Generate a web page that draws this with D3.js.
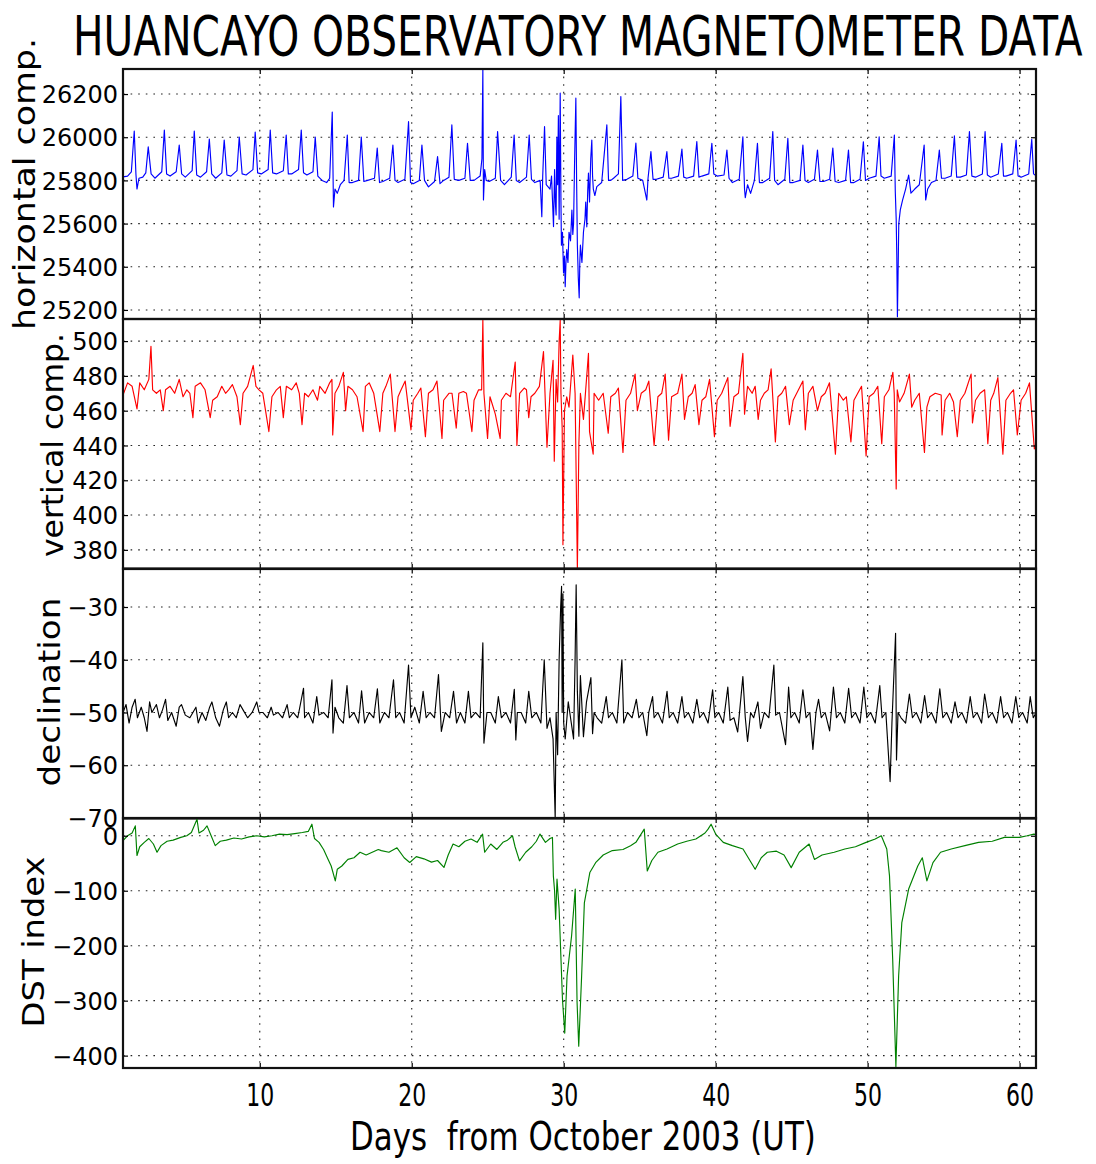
<!DOCTYPE html>
<html><head><meta charset="utf-8">
<script src="https://cdn.jsdelivr.net/npm/d3@7"></script>
<style>
html,body{margin:0;padding:0;background:#fff;}
svg{display:block;font-family:"DejaVu Sans",sans-serif;}
</style></head><body>
<svg id="chart" width="1096" height="1164"></svg>
<script>
// ---------------- DATA (day of Oct 2003, value) ----------------
const titleText = "HUANCAYO OBSERVATORY MAGNETOMETER DATA";
const xLabelText = "Days  from October 2003 (UT)";
const panelLabels = ["horizontal comp.", "vertical comp.", "declination", "DST index"];
const xTicks = [10, 20, 30, 40, 50, 60];
const hTicks = [25200, 25400, 25600, 25800, 26000, 26200];
const zTicks = [380, 400, 420, 440, 460, 480, 500];
const dTicks = [-70, -60, -50, -40, -30];
const dstTicks = [-400, -300, -200, -100, 0];

const hComp = [
[1.0,25816],[1.3,25820],[1.55,25840],[1.74,26029],[1.85,25830],[1.92,25760],[2.05,25810],
[2.3,25815],[2.5,25835],[2.66,25955],[2.85,25830],
[3.1,25810],[3.55,25840],[3.72,26033],[3.87,25830],
[4.1,25820],[4.5,25840],[4.70,25964],[4.86,25830],
[5.1,25815],[5.55,25845],[5.69,26029],[5.85,25825],
[6.1,25815],[6.5,25840],[6.68,25991],[6.84,25830],
[7.1,25810],[7.5,25835],[7.66,25987],[7.84,25825],
[8.1,25820],[8.5,25845],[8.65,26001],[8.84,25830],
[9.1,25825],[9.55,25850],[9.70,26024],[9.86,25835],
[10.1,25830],[10.55,25850],[10.69,26033],[10.85,25835],
[11.1,25830],[11.55,25845],[11.74,26010],[11.88,25830],
[12.1,25830],[12.55,25850],[12.73,26033],[12.88,25835],
[13.1,25825],[13.5,25840],[13.65,26001],[13.82,25820],
[14.1,25800],[14.4,25790],[14.6,25810],[14.77,26117],[14.85,25677],[14.95,25760],
[15.1,25740],[15.3,25780],[15.55,25800],[15.76,26010],[15.88,25790],
[16.1,25790],[16.5,25800],[16.68,26001],[16.85,25795],
[17.1,25800],[17.55,25810],[17.73,25950],[17.88,25790],
[18.1,25795],[18.55,25810],[18.76,25964],[18.9,25800],
[19.1,25790],[19.55,25805],[19.79,26072],[19.92,25790],
[20.1,25785],[20.5,25800],[20.67,25964],[20.84,25800],
[21.1,25770],[21.5,25795],[21.70,25910],[21.86,25785],
[22.1,25800],[22.45,25815],[22.64,26057],[22.8,25805],
[23.1,25800],[23.5,25810],[23.67,25972],[23.85,25800],
[24.1,25800],[24.5,25820],[24.62,25900],[24.68,26311],[24.72,25709],[24.8,25850],[24.9,25800],
[25.1,25795],[25.5,25810],[25.65,26026],[25.85,25800],
[26.1,25780],[26.55,25815],[26.74,26010],[26.88,25800],
[27.1,25790],[27.55,25815],[27.73,26010],[27.88,25805],
[28.1,25790],[28.45,25800],[28.56,25632],[28.62,25820],[28.74,26049],[28.85,25780],
[29.1,25760],[29.2,25820],[29.33,25586],[29.4,25850],[29.45,25700],[29.5,25640],[29.55,26000],[29.6,25780],
[29.65,26100],[29.7,25620],[29.77,26204],[29.82,25700],[29.85,25500],[29.92,25560],[29.99,25371],[30.05,25450],
[30.10,25308],[30.15,25420],[30.2,25480],[30.28,25420],[30.35,25560],[30.45,25520],[30.54,25663],[30.6,25550],
[30.65,25600],[30.72,25900],[30.8,26181],[30.85,25800],[30.9,25500],[30.96,25350],[31.02,25256],[31.06,25420],
[31.1,25500],[31.2,25420],[31.3,25560],[31.4,25620],[31.45,25700],[31.52,25585],[31.58,25750],[31.63,25834],
[31.7,25700],[31.78,25900],[31.85,25987],[31.9,25820],[31.95,25760],[32.05,25730],[32.18,25771],[32.5,25790],
[32.84,26057],[32.95,25800],
[33.1,25800],[33.28,25810],[33.6,25830],[33.76,26188],[33.88,25800],
[34.16,25805],[34.55,25820],[34.75,25973],[34.88,25810],
[35.2,25800],[35.47,25709],[35.55,25810],[35.74,25933],[35.88,25805],
[36.1,25805],[36.55,25815],[36.79,25933],[36.92,25810],
[37.1,25810],[37.55,25820],[37.78,25945],[37.9,25815],
[38.1,25810],[38.55,25820],[38.76,25980],[38.9,25815],
[39.1,25820],[39.55,25830],[39.75,25972],[39.88,25830],
[40.1,25820],[40.55,25825],[40.74,25941],[40.88,25810],
[41.1,25790],[41.55,25805],[41.79,26002],[41.9,25760],[41.95,25720],
[42.1,25780],[42.3,25740],[42.55,25800],[42.75,25972],[42.88,25790],
[43.1,25790],[43.55,25810],[43.76,26026],[43.88,25800],
[44.1,25780],[44.55,25805],[44.75,25995],[44.88,25790],
[45.1,25790],[45.55,25800],[45.74,25964],[45.88,25800],
[46.1,25790],[46.5,25805],[46.70,25941],[46.86,25795],
[47.1,25795],[47.5,25805],[47.71,25950],[47.86,25795],
[48.1,25790],[48.55,25800],[48.74,25941],[48.88,25790],
[49.1,25790],[49.5,25805],[49.72,25979],[49.86,25800],
[50.1,25810],[50.55,25820],[50.76,26002],[50.88,25820],
[51.1,25810],[51.55,25820],[51.76,26010],[51.82,25750],[51.88,25620],[51.92,25450],[51.96,25169],[52.0,25350],[52.05,25600],[52.15,25663],
[52.3,25709],[52.5,25760],[52.7,25825],[52.85,25741],[53.1,25760],[53.4,25780],
[53.72,25964],[53.82,25709],[53.95,25760],
[54.2,25790],[54.5,25800],[54.72,25941],[54.86,25810],
[55.1,25810],[55.5,25820],[55.71,26006],[55.86,25815],
[56.1,25815],[56.5,25825],[56.70,26026],[56.86,25820],
[57.1,25815],[57.55,25830],[57.73,26026],[57.88,25825],
[58.1,25815],[58.6,25830],[58.83,25972],[58.94,25820],
[59.1,25820],[59.55,25830],[59.77,25987],[59.9,25820],
[60.1,25815],[60.6,25830],[60.80,25990],[60.92,25830],[61.1,25820]
];

const zComp = [
[1.0,469],[1.3,476],[1.6,474],[1.92,461],
[2.1,476],[2.4,472],[2.7,478],[2.84,497],[2.95,472],
[3.2,470],[3.45,472],[3.65,460],[3.8,472],
[4.1,474],[4.4,470],[4.7,478],[4.95,468],
[5.2,472],[5.4,470],[5.6,456],[5.75,474],
[6.1,476],[6.4,472],[6.74,456],[6.9,466],
[7.2,468],[7.5,474],[7.75,470],[7.95,472],
[8.2,475],[8.5,468],[8.72,452],[8.9,470],
[9.2,474],[9.57,486],[9.75,474],[9.95,472],
[10.2,470],[10.6,448],[10.8,468],
[11.1,472],[11.35,474],[11.55,456],[11.75,474],
[12.1,472],[12.4,476],[12.6,470],[12.78,452],[12.95,470],
[13.2,468],[13.5,472],[13.8,466],[13.95,474],
[14.3,470],[14.6,476],[14.75,478],[14.8,446],[14.95,470],
[15.2,474],[15.5,482],[15.65,460],[15.8,474],
[16.1,472],[16.4,468],[16.8,448],[16.95,474],
[17.2,476],[17.5,470],[17.9,448],
[18.1,470],[18.3,474],[18.59,481],[18.9,448],
[19.1,468],[19.3,472],[19.57,477],[19.95,449],
[20.1,466],[20.4,470],[20.6,473],[20.9,445],
[21.1,470],[21.4,472],[21.66,477],[21.99,444],
[22.1,466],[22.45,470],[22.65,470],[22.93,450],
[23.1,470],[23.4,471],[23.6,470],[23.96,448],
[24.1,466],[24.4,472],[24.6,472],[24.68,512],[24.75,470],[24.99,444],
[25.15,468],[25.5,458],[25.82,444],[25.9,466],
[26.2,470],[26.5,468],[26.81,488],[26.92,440],
[27.1,470],[27.4,473],[27.55,472],[27.7,456],[27.85,468],
[28.1,470],[28.4,474],[28.67,494],[28.9,439],
[29.1,470],[29.3,489],[29.38,431],[29.5,478],[29.6,465],[29.7,500],[29.77,512],[29.82,470],[29.9,450],[29.95,383],
[30.05,460],[30.2,468],[30.35,462],[30.6,492],[30.75,470],[30.9,369],[31.0,441],[31.1,470],[31.3,455],[31.5,478],
[31.63,493],[31.7,448],[31.94,435],[32.0,470],
[32.3,466],[32.6,470],[32.93,447],
[33.1,468],[33.4,470],[33.6,473],[33.9,436],
[34.1,466],[34.4,470],[34.7,481],[34.85,460],
[35.1,470],[35.4,472],[35.6,477],[35.95,440],
[36.2,468],[36.45,470],[36.68,481],[36.9,443],
[37.1,468],[37.5,470],[37.78,481],[37.95,455],
[38.2,468],[38.45,470],[38.65,475],[38.9,452],
[39.1,466],[39.35,468],[39.6,478],[39.92,445],
[40.1,466],[40.4,470],[40.8,479],[40.95,451],
[41.2,468],[41.5,470],[41.79,493],[41.9,458],
[42.1,474],[42.4,470],[42.6,474],[42.8,455],[42.95,466],
[43.2,470],[43.45,472],[43.65,484],[43.93,442],
[44.1,468],[44.35,470],[44.6,474],[44.85,452],
[45.1,466],[45.45,472],[45.74,477],[45.9,449],
[46.1,470],[46.4,474],[46.7,460],[46.95,468],
[47.2,470],[47.49,476],[47.88,435],
[48.1,470],[48.4,466],[48.6,468],[48.9,442],
[49.1,466],[49.35,470],[49.6,474],[49.9,434],
[50.1,468],[50.4,470],[50.67,474],[50.93,441],
[51.1,468],[51.4,472],[51.66,482],[51.75,470],[51.88,415],[51.95,472],[52.1,465],
[52.4,470],[52.75,481],[52.9,462],
[53.1,466],[53.4,470],[53.74,436],[53.9,462],
[54.1,468],[54.45,470],[54.84,469],[54.9,446],
[55.1,466],[55.4,470],[55.65,465],[55.9,445],
[56.1,466],[56.4,470],[56.81,481],[56.9,453],
[57.1,466],[57.4,470],[57.7,472],[57.91,441],
[58.1,466],[58.3,470],[58.57,479],[58.9,435],
[59.1,466],[59.4,470],[59.6,472],[59.85,446],
[60.1,466],[60.4,470],[60.65,476],[60.97,438],[61.1,442]
];

const declination = [
[1.0,-50],[1.2,-48.5],[1.4,-52],[1.6,-49],[1.8,-47.5],[1.95,-51],
[2.2,-49],[2.4,-51],[2.58,-53.6],[2.75,-48],[2.9,-50],
[3.2,-48.5],[3.4,-51],[3.6,-49.5],[3.8,-47.5],[3.95,-51.5],
[4.2,-50],[4.5,-52.6],[4.7,-49],[4.85,-48.5],
[5.1,-50.5],[5.4,-51],[5.6,-50],[5.8,-49],[5.95,-52],
[6.2,-50],[6.45,-51.5],[6.7,-49],[6.85,-48],
[7.1,-51],[7.35,-52.6],[7.6,-49.5],[7.8,-48],[7.95,-51],
[8.2,-50],[8.45,-51],[8.7,-48.5],[8.9,-49.5],
[9.2,-51],[9.5,-50],[9.8,-48],[9.95,-50],
[10.2,-50],[10.5,-51],[10.75,-49],[10.9,-50.5],
[11.2,-50],[11.5,-51],[11.8,-48.5],[11.95,-51],
[12.2,-50],[12.5,-51],[12.88,-45.4],[12.95,-51],
[13.2,-50],[13.5,-52],[13.75,-47],[13.9,-50.5],
[14.2,-50],[14.5,-51],[14.75,-43.8],[14.82,-53.9],[14.95,-49],
[15.2,-51],[15.5,-52],[15.74,-44.9],[15.9,-51],
[16.2,-50],[16.5,-52],[16.7,-45.9],[16.9,-52],
[17.2,-50],[17.5,-51],[17.74,-45.5],[17.9,-52],
[18.2,-50],[18.5,-51],[18.8,-43.8],[18.95,-51],
[19.2,-50],[19.5,-52],[19.79,-41],[19.95,-51],
[20.2,-49],[20.5,-52],[20.75,-46],[20.95,-51],
[21.2,-50],[21.5,-51],[21.76,-42.8],[21.95,-53.6],
[22.2,-50],[22.5,-51],[22.75,-46],[22.95,-52],
[23.2,-50],[23.5,-52],[23.73,-46],[23.9,-51],
[24.2,-50],[24.5,-51],[24.68,-36.8],[24.75,-55.8],[24.95,-50],
[25.2,-50],[25.5,-52],[25.7,-47],[25.9,-51],
[26.2,-50],[26.5,-52],[26.75,-45.6],[26.85,-55.2],[26.95,-50],
[27.2,-50],[27.5,-52],[27.7,-46],[27.9,-51],
[28.2,-50],[28.5,-52],[28.72,-40],[28.9,-53],
[29.1,-51],[29.3,-55],[29.44,-70],[29.5,-50],[29.6,-58],[29.7,-40],[29.8,-30],[29.86,-26.1],[29.9,-50],[29.95,-27.5],
[30.0,-52],[30.1,-55],[30.3,-48],[30.5,-52],[30.65,-55],[30.75,-40],[30.82,-25.8],[30.9,-46],[31.0,-54.5],[31.1,-43],
[31.3,-54.6],[31.5,-48],[31.79,-43.4],[31.9,-54],[32.0,-50],
[32.2,-51],[32.5,-52],[32.8,-47],[32.95,-51],
[33.2,-50],[33.5,-52],[33.83,-40],[33.95,-52],
[34.2,-50],[34.5,-51],[34.78,-47.5],[34.95,-51],
[35.2,-50],[35.47,-54.4],[35.6,-50],[35.85,-47],[35.95,-51],
[36.2,-50],[36.5,-52],[36.8,-46],[36.95,-51],
[37.2,-50],[37.5,-52],[37.78,-47],[37.95,-51],
[38.2,-50],[38.5,-52],[38.76,-47.5],[38.95,-51],
[39.2,-50],[39.5,-52],[39.8,-45.7],[39.95,-51],
[40.2,-50],[40.5,-52],[40.8,-45.2],[40.95,-51.5],
[41.2,-51],[41.45,-53.7],[41.79,-43.2],[41.95,-51],[42.1,-55.5],
[42.3,-50],[42.5,-51],[42.78,-48],[42.95,-53],
[43.2,-50],[43.5,-51],[43.83,-41],[43.95,-50.5],
[44.2,-50],[44.6,-56.1],[44.8,-45.2],[44.95,-51],
[45.2,-50],[45.5,-52],[45.74,-45.7],[45.95,-51],
[46.2,-50],[46.4,-57],[46.6,-50],[46.77,-47.5],[46.95,-51],
[47.2,-50],[47.5,-53.5],[47.75,-45.2],[47.95,-51],
[48.2,-50],[48.5,-52],[48.75,-45.4],[48.95,-51],
[49.2,-50],[49.5,-52],[49.75,-45.2],[49.95,-51],
[50.2,-50],[50.5,-52],[50.8,-44.9],[50.95,-51],
[51.2,-50],[51.48,-63.1],[51.6,-52],[51.84,-35],[51.9,-59],[52.0,-50],
[52.2,-51],[52.5,-52],[52.75,-46.5],[52.95,-51],
[53.2,-50],[53.5,-52],[53.75,-46.8],[53.95,-51],
[54.2,-50],[54.5,-52],[54.75,-45.5],[54.95,-51],
[55.2,-50],[55.5,-52],[55.75,-48],[55.95,-51],
[56.2,-50],[56.5,-52],[56.75,-47],[56.95,-51],
[57.2,-50],[57.5,-52],[57.7,-46.5],[57.95,-51],
[58.2,-50],[58.5,-52],[58.75,-47],[58.95,-51],
[59.2,-50],[59.5,-52],[59.75,-47],[59.95,-51],
[60.2,-50],[60.5,-52],[60.7,-47],[60.9,-51],[61.1,-50]
];

const dstIndex = [
[1.0,-9],[1.3,0],[1.6,5],[1.81,18],[1.92,-36],[2.1,-20],[2.4,-12],[2.7,-5],[3.0,-15],[3.24,-30],
[3.5,-18],[3.9,-10],[4.3,-8],[4.8,-3],[5.2,0],[5.5,6],[5.87,30],[6.0,5],[6.3,10],[6.53,18],
[6.8,0],[7.07,-18],[7.4,-10],[7.8,-8],[8.3,-4],[8.8,-6],[9.3,-2],[9.8,0],[10.3,-2],[10.8,0],
[11.3,3],[11.8,2],[12.3,4],[12.8,6],[13.2,8],[13.43,21],[13.6,-5],[13.9,-12],[14.2,-25],[14.5,-43],
[14.7,-55],[14.97,-82],[15.1,-61],[15.4,-55],[15.8,-43],[16.2,-40],[16.6,-30],[17.0,-35],[17.4,-30],[17.8,-25],
[18.0,-27],[18.5,-30],[19.03,-22],[19.5,-40],[19.87,-48.6],[20.3,-38],[20.8,-42],[21.3,-48],[21.7,-45],[22.12,-57.7],
[22.4,-35],[22.72,-15],[23.1,-20],[23.5,-10],[23.9,-6],[24.3,-12],[24.66,3],[24.8,-30],[25.2,-15],[25.6,-25],
[26.0,-12],[26.3,-8],[26.63,0],[26.8,-20],[27.09,-45.6],[27.5,-30],[27.9,-20],[28.2,-10],[28.44,3],[28.8,-12],
[29.1,-5],[29.26,-3],[29.32,-73],[29.4,-100],[29.47,-152],[29.56,-79],[29.7,-134],[29.92,-298],[30.07,-359],[30.22,-255],
[30.52,-182],[30.76,-97],[30.88,-303],[30.99,-383],[31.18,-255],[31.36,-122],[31.72,-67],[32.1,-49],[32.6,-35],[33.2,-27],
[33.9,-25],[34.4,-18],[34.75,-12],[35.3,12],[35.5,-64],[35.8,-45],[36.2,-30],[36.8,-24],[37.5,-15],[38.1,-10],
[38.7,-6],[39.3,5],[39.5,12],[39.7,21],[40.0,3],[40.5,-12],[41.1,-18],[41.8,-24],[42.6,-61],[43.0,-40],
[43.4,-30],[44.0,-28],[44.5,-35],[44.97,-58],[45.5,-30],[46.15,-15],[46.5,-43],[47.0,-35],[47.8,-30],[48.5,-24],
[49.2,-20],[49.9,-12],[50.5,-6],[50.9,0],[51.26,-24],[51.44,-73],[51.65,-225],[51.86,-420],[52.04,-255],[52.25,-158],
[52.7,-97],[53.3,-55],[53.6,-40],[53.9,-82],[54.3,-49],[54.8,-30],[55.5,-24],[56.4,-18],[57.3,-12],[58.2,-10],
[59.0,-3],[60.0,-3],[60.5,0],[60.94,3],[61.1,2]
];

// ---------------- LAYOUT ----------------
const left = 123, right = 1036;
const panelTops = [69, 319, 568.5, 818];
const panelH = 250;
const xDomain = [1.0, 61.08];

const panels = [
  {data: hComp, domain: [25158, 26316], ticks: hTicks, color: "#0000ff", label: panelLabels[0], lx: 35, ly: 184, lw: 292},
  {data: zComp, domain: [369, 512.7], ticks: zTicks, color: "#ff0000", label: panelLabels[1], lx: 63, ly: 445, lw: 224},
  {data: declination, domain: [-70.1, -22.7], ticks: dTicks, color: "#000000", label: panelLabels[2], lx: 60, ly: 692, lw: 189},
  {data: dstIndex, domain: [-422.5, 32.3], ticks: dstTicks, color: "#008000", label: panelLabels[3], lx: 44, ly: 942, lw: 171}
];

const svg = d3.select("#chart");
svg.append("rect").attr("width", 1096).attr("height", 1164).attr("fill", "#fff");

const x = d3.scaleLinear().domain(xDomain).range([left, right]);
const fmt = d3.format("d");

// helper: place text starting at (tx,ty) squeezed horizontally to a target width
function fitText(str, tx, ty, size, width) {
  const t = svg.append("text").attr("font-size", size).attr("fill", "#000")
    .style("white-space", "pre").attr("x", 0).attr("y", 0).text(str);
  const w = t.node().getComputedTextLength();
  t.attr("transform", `translate(${tx},${ty}) scale(${width / w},1)`);
  return t;
}

// Title
fitText(titleText, 73, 55, 56, 1010);

panels.forEach((p, i) => {
  const top = panelTops[i], bottom = top + panelH;
  const y = d3.scaleLinear().domain(p.domain).range([bottom, top]);
  const g = svg.append("g");
  const cid = "clip" + i;
  svg.append("clipPath").attr("id", cid).append("rect")
    .attr("x", left).attr("y", top).attr("width", right - left).attr("height", panelH);

  // dotted grid
  g.selectAll("line.hgrid").data(p.ticks).join("line").attr("class", "hgrid")
    .attr("x1", left).attr("x2", right).attr("y1", d => y(d)).attr("y2", d => y(d))
    .attr("stroke", "#222").attr("stroke-width", 1.1).attr("stroke-dasharray", "1.6,6");
  g.selectAll("line.vgrid").data(xTicks).join("line").attr("class", "vgrid")
    .attr("y1", top).attr("y2", bottom).attr("x1", d => x(d)).attr("x2", d => x(d))
    .attr("stroke", "#222").attr("stroke-width", 1.1).attr("stroke-dasharray", "1.6,6");

  // data line
  const line = d3.line().x(d => x(d[0])).y(d => y(d[1]));
  g.append("path").datum(p.data).attr("clip-path", `url(#${cid})`)
    .attr("fill", "none").attr("stroke", p.color).attr("stroke-width", 1.15)
    .attr("stroke-linejoin", "round").attr("d", line);

  // axes (inward ticks)
  const ax = g.append("g").attr("transform", `translate(${left},0)`)
    .call(d3.axisLeft(y).tickValues(p.ticks).tickSize(-5).tickPadding(5).tickFormat(fmt));
  ax.selectAll("text").attr("font-size", 24).attr("font-family", "DejaVu Sans").attr("fill", "#000").attr("dy", "0.36em");
  g.append("g").attr("transform", `translate(${right},0)`)
    .call(d3.axisRight(y).tickValues(p.ticks).tickSize(-5).tickFormat(""));
  g.append("g").attr("transform", `translate(0,${top})`)
    .call(d3.axisTop(x).tickValues(xTicks).tickSize(-5).tickFormat(""));
  const bx = g.append("g").attr("transform", `translate(0,${bottom})`)
    .call(d3.axisBottom(x).tickValues(xTicks).tickSize(-5).tickPadding(15).tickFormat(i === 3 ? fmt : ""));
  if (i === 3) {
    bx.selectAll("text").attr("font-size", 32).attr("font-family", "DejaVu Sans").attr("fill", "#000")
      .attr("textLength", 28).attr("lengthAdjust", "spacingAndGlyphs");
  }
  g.selectAll(".domain").remove();
  g.selectAll(".tick line").attr("stroke", "#000").attr("stroke-width", 1.2);

  // border
  g.append("rect").attr("x", left).attr("y", top).attr("width", right - left).attr("height", panelH)
    .attr("fill", "none").attr("stroke", "#111").attr("stroke-width", 2.2);

  // y label
  svg.append("text").attr("transform", `translate(${p.lx},${p.ly}) rotate(-90)`)
    .attr("text-anchor", "middle").attr("font-size", 30)
    .attr("textLength", p.lw).attr("lengthAdjust", "spacingAndGlyphs")
    .attr("fill", "#000").text(p.label);
});

// x label
fitText(xLabelText, 350, 1150, 39, 466);
</script>
</body></html>
